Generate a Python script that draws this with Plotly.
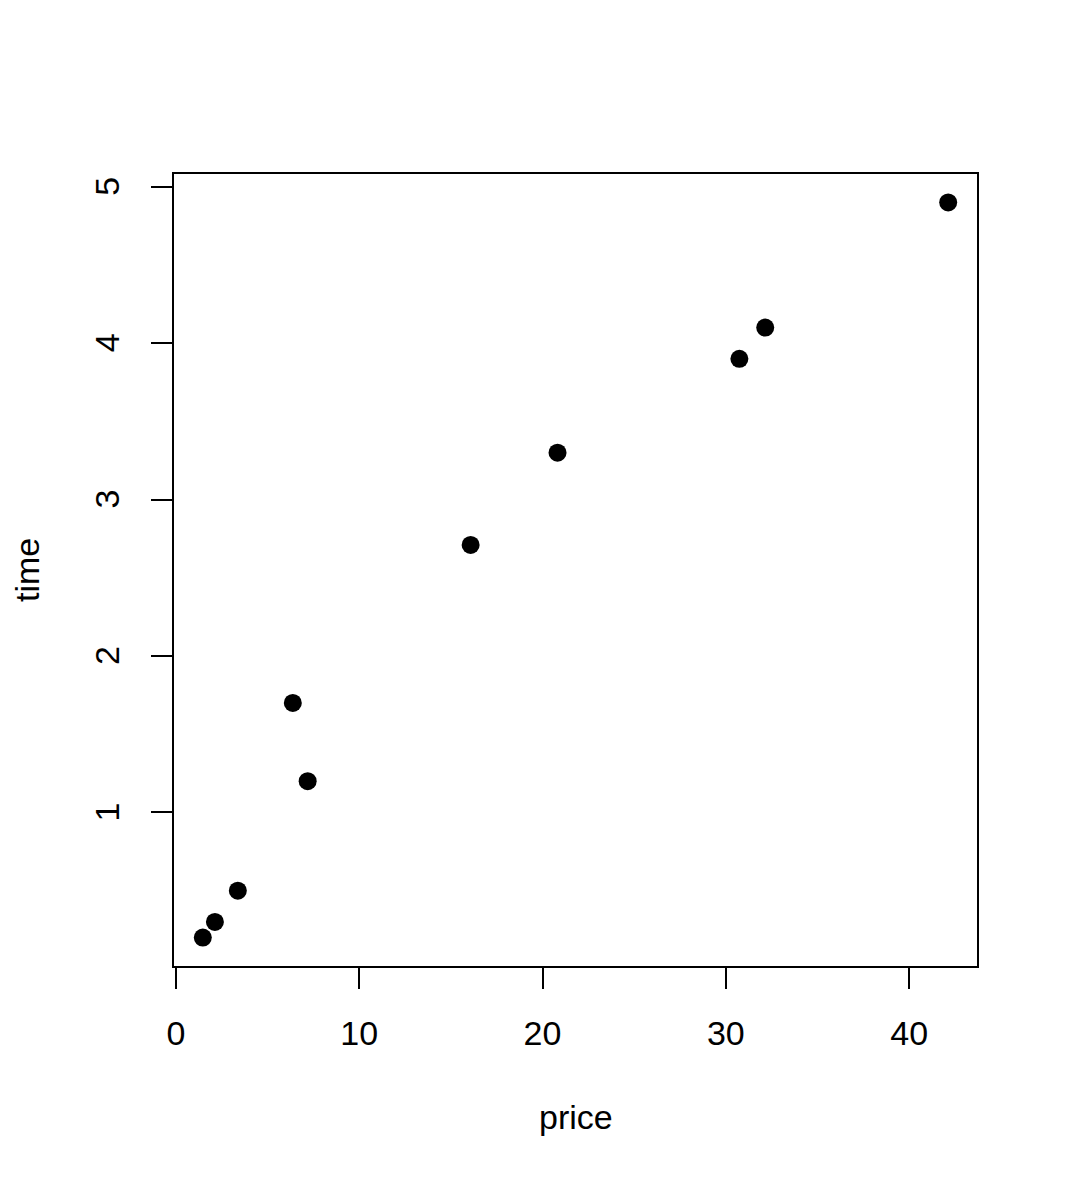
import plotly.graph_objects as go

price = [1.47, 2.13, 3.38, 6.38, 7.19, 16.08, 20.82, 30.74, 32.15, 42.13]
time = [0.20, 0.30, 0.50, 1.70, 1.20, 2.71, 3.30, 3.90, 4.10, 4.90]
x_ticks = [0, 10, 20, 30, 40]
y_ticks = [1, 2, 3, 4, 5]

W, H = 1067, 1183
OFF = 8  # page body margin offset
L, R, T, B = 173 - OFF, 89 + OFF, 173 - OFF, 216 + OFF
pw, ph = W - L - R, H - T - B

font = "Liberation Sans, Arial, Helvetica, sans-serif"
FS = 34

fig = go.Figure()
fig.add_trace(go.Scatter(
    x=price, y=time, mode="markers",
    marker=dict(color="black", size=18, line=dict(width=0)),
    showlegend=False, hoverinfo="x+y",
))

axis_common = dict(
    showgrid=False, zeroline=False, showline=False,
    ticks="outside", ticklen=21, tickwidth=2, tickcolor="black",
    tickfont=dict(family=font, size=FS, color="black"),
)

xmin, xmax = min(price), max(price)
ymin, ymax = min(time), max(time)
xpad, ypad = 0.04 * (xmax - xmin), 0.04 * (ymax - ymin)

fig.update_xaxes(range=[xmin - xpad, xmax + xpad], tickmode="array",
                 tickvals=x_ticks, ticktext=[str(v) for v in x_ticks],
                 ticklabelstandoff=15, **axis_common)
fig.update_yaxes(range=[ymin - ypad, ymax + ypad], tickmode="array",
                 tickvals=y_ticks, showticklabels=False, **axis_common)

# y tick labels (rotated, centred on ticks like R)
for v in y_ticks:
    fig.add_annotation(text=str(v), xref="paper", yref="y", x=-66 / pw, y=v,
                       xanchor="center", yanchor="middle", textangle=-90,
                       showarrow=False,
                       font=dict(family=font, size=FS, color="black"))

fig.add_shape(type="rect", xref="paper", yref="paper", x0=0, y0=0, x1=1, y1=1,
              line=dict(color="black", width=2), fillcolor="rgba(0,0,0,0)")

fig.add_annotation(text="price", xref="paper", yref="paper", x=0.5,
                   y=-150 / ph, xanchor="center", yanchor="middle",
                   showarrow=False, font=dict(family=font, size=FS, color="black"))
fig.add_annotation(text="time", xref="paper", yref="paper", x=-146 / pw,
                   y=0.5, xanchor="center", yanchor="middle", textangle=-90,
                   showarrow=False, font=dict(family=font, size=FS, color="black"))

fig.update_layout(
    width=W, height=H,
    margin=dict(l=L, r=R, t=T, b=B, autoexpand=False),
    paper_bgcolor="white", plot_bgcolor="white",
)

fig.write_html("out.html")
